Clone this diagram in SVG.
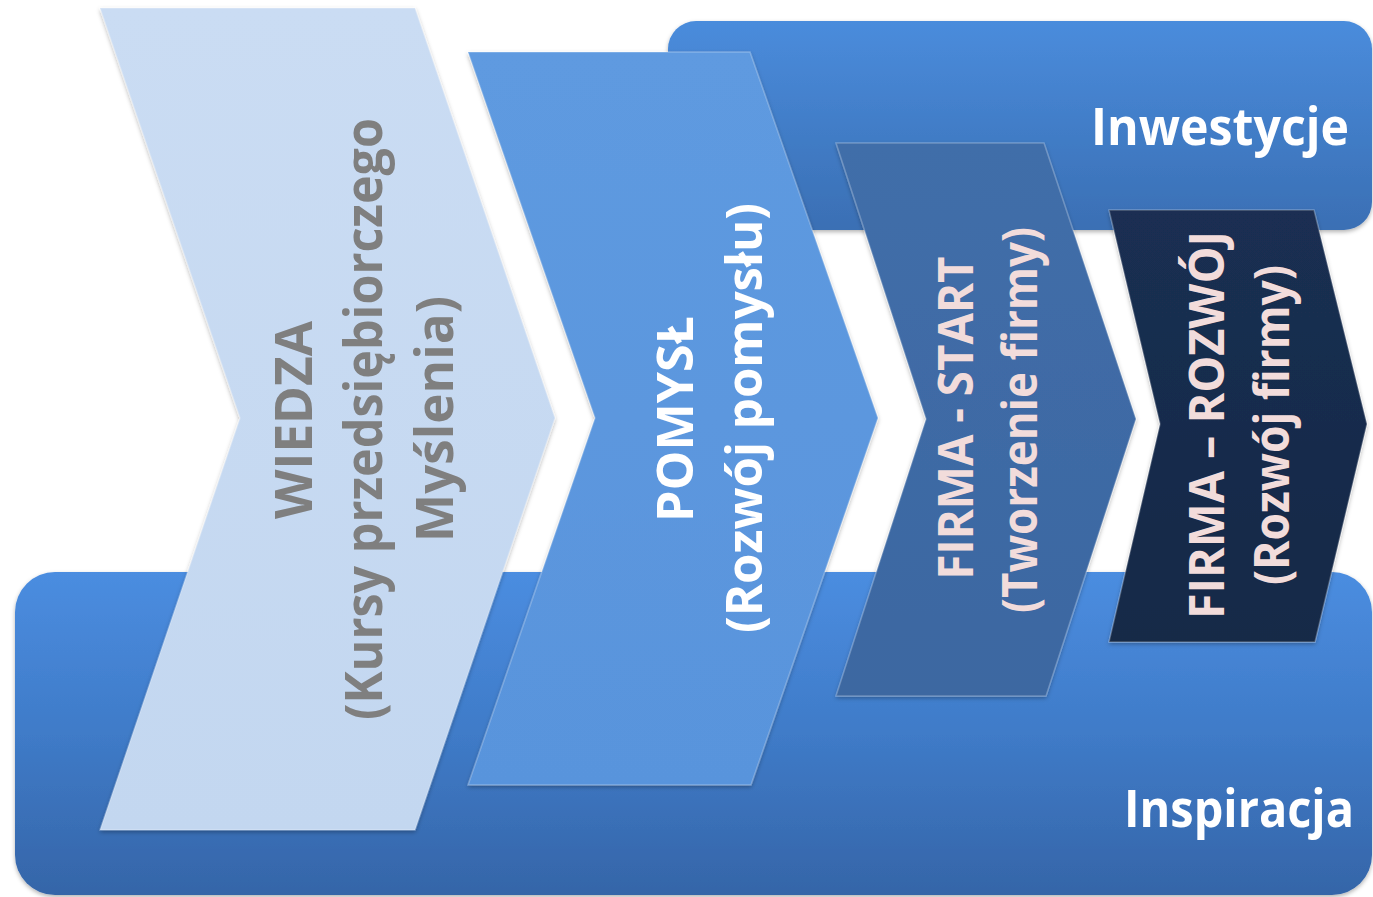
<svg xmlns="http://www.w3.org/2000/svg" width="1373" height="897" viewBox="0 0 1373 897">
<defs>
<linearGradient id="gTop" x1="0" y1="0" x2="0" y2="1">
<stop offset="0" stop-color="#4a8cdc"/><stop offset="1" stop-color="#3a6fb4"/>
</linearGradient>
<linearGradient id="gBot" x1="0" y1="0" x2="0" y2="1">
<stop offset="0" stop-color="#4b8de0"/><stop offset="0.5" stop-color="#3f7bc8"/><stop offset="1" stop-color="#3565a8"/>
</linearGradient>
<linearGradient id="gW" x1="0" y1="0" x2="0" y2="1">
<stop offset="0" stop-color="#cadcf3"/><stop offset="1" stop-color="#c3d7f0"/>
</linearGradient>
<linearGradient id="gP" x1="0" y1="0" x2="0" y2="1">
<stop offset="0" stop-color="#5e9ae0"/><stop offset="1" stop-color="#5994dc"/>
</linearGradient>
<linearGradient id="gS" x1="0" y1="0" x2="0" y2="1">
<stop offset="0" stop-color="#416ea9"/><stop offset="1" stop-color="#3c67a1"/>
</linearGradient>
<linearGradient id="gR" x1="0" y1="0" x2="0" y2="1">
<stop offset="0" stop-color="#1a2f52"/><stop offset="1" stop-color="#162947"/>
</linearGradient>
<filter id="sh" x="-10%" y="-10%" width="120%" height="120%">
<feDropShadow dx="0" dy="2" stdDeviation="2" flood-color="#000" flood-opacity="0.3"/>
</filter>
</defs>
<style>
.bevel{stroke:#ffffff;stroke-opacity:0.25;stroke-width:1.5;stroke-linejoin:miter}
.t{font-family:"Open Sans","Noto Sans","DejaVu Sans",sans-serif;font-weight:700;text-anchor:middle}
.gray{fill:#7f7f7f}
.white{fill:#ffffff}
.pink{fill:#f2dcdb}
.lbl{font-family:"Open Sans","Noto Sans","DejaVu Sans",sans-serif;font-weight:700;fill:#ffffff;text-anchor:end;font-size:52px}
</style>
<rect width="1373" height="897" fill="#ffffff"/>
<g id="inspiracja">
<rect x="15" y="572" width="1357" height="323" rx="40" ry="40" fill="url(#gBot)" filter="url(#sh)"/>
<text class="lbl" x="1354" y="827" textLength="230" lengthAdjust="spacingAndGlyphs">Inspiracja</text>
</g>
<g id="inwestycje">
<rect x="668" y="21" width="704" height="209" rx="28" ry="28" fill="url(#gTop)" filter="url(#sh)"/>
<text class="lbl" x="1349" y="145" textLength="258" lengthAdjust="spacingAndGlyphs">Inwestycje</text>
</g>
<g id="wiedza">
<polygon points="100,8 415,8 555,418 415,830 100,830 240,418" fill="url(#gW)" class="bevel" filter="url(#sh)"/>
<g class="t gray">
<text transform="translate(312,420) rotate(-90)" font-size="52" textLength="198" lengthAdjust="spacingAndGlyphs">WIEDZA</text>
<text transform="translate(382,419) rotate(-90)" font-size="52" textLength="602" lengthAdjust="spacingAndGlyphs">(Kursy przedsiębiorczego</text>
<text transform="translate(453,419) rotate(-90)" font-size="52" textLength="246" lengthAdjust="spacingAndGlyphs">Myślenia)</text>
</g>
</g>
<g id="pomysl">
<polygon points="468,52 750,52 878,418 751,785 468,785 595,418" fill="url(#gP)" class="bevel" filter="url(#sh)"/>
<g class="t white">
<text transform="translate(693,419) rotate(-90)" font-size="50" textLength="206" lengthAdjust="spacingAndGlyphs">POMYSŁ</text>
<text transform="translate(762,418) rotate(-90)" font-size="50" textLength="430" lengthAdjust="spacingAndGlyphs">(Rozwój pomysłu)</text>
</g>
</g>
<g id="firma-start">
<polygon points="836,143 1044,143 1136,419 1046,696 836,696 926,419" fill="url(#gS)" class="bevel" filter="url(#sh)"/>
<g class="t pink">
<text transform="translate(973,418) rotate(-90)" font-size="49" textLength="323" lengthAdjust="spacingAndGlyphs">FIRMA - START</text>
<text transform="translate(1037,420) rotate(-90)" font-size="49" textLength="386" lengthAdjust="spacingAndGlyphs">(Tworzenie firmy)</text>
</g>
</g>
<g id="firma-rozwoj">
<polygon points="1109,210 1314,210 1367,424 1315,642 1109,642 1160,424" fill="url(#gR)" class="bevel" filter="url(#sh)"/>
<g class="t pink">
<text transform="translate(1224,425) rotate(-90)" font-size="48" textLength="388" lengthAdjust="spacingAndGlyphs">FIRMA – ROZWÓJ</text>
<text transform="translate(1289,425) rotate(-90)" font-size="48" textLength="320" lengthAdjust="spacingAndGlyphs">(Rozwój firmy)</text>
</g>
</g>
<g id="connectors"></g>
</svg>
